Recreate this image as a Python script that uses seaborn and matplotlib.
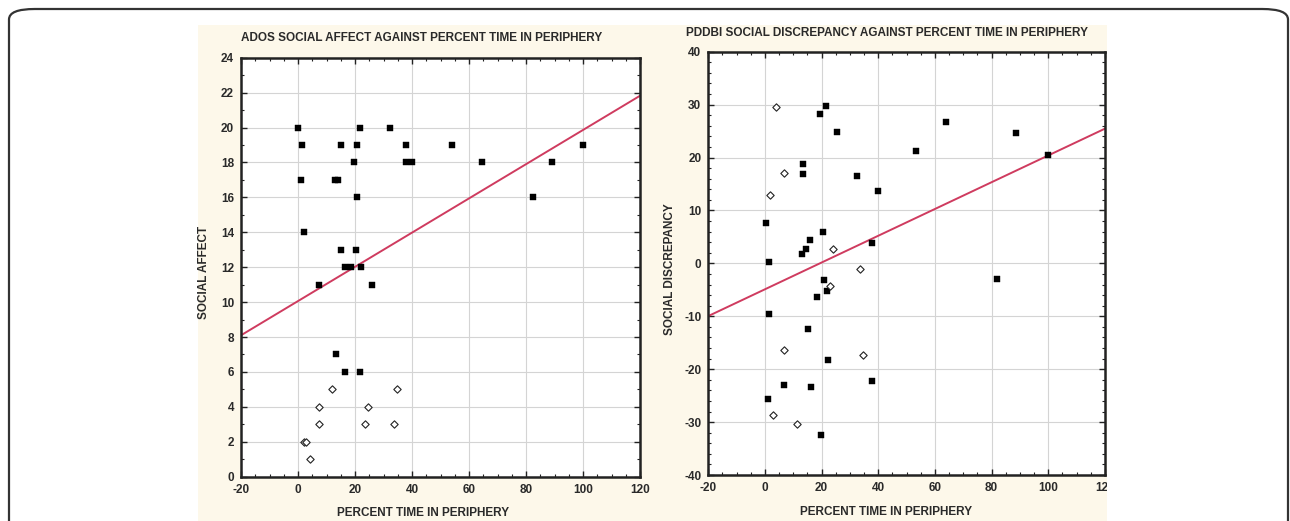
import numpy as np
import pandas as pd
import matplotlib
matplotlib.use("Agg")
import matplotlib.pyplot as plt
from matplotlib.patches import Rectangle, FancyBboxPatch
from matplotlib.transforms import Bbox, TransformedBbox
from matplotlib.ticker import MultipleLocator
import seaborn as sns

# ADOS social affect panel
ados_sq_x = [0, 1.4, 0.9, 2, 15, 13, 14, 20.8, 19.8, 21.8, 20.7, 15, 20.2, 32.2, 37.9,
             37.9, 40.1, 54.2, 64.6, 82.5, 89.2, 100, 16.5, 18.5, 22.2, 7.3, 26, 13.5, 16.6, 21.7]
ados_sq_y = [20, 19, 17, 14, 19, 17, 17, 19, 18, 20, 16, 13, 13, 20, 19,
             18, 18, 19, 18, 16, 18, 19, 12, 12, 12, 11, 11, 7, 6, 6]
ados_dm_x = [11.8, 34.9, 7.3, 24.4, 7.3, 23.4, 33.8, 2, 2.9, 4.1]
ados_dm_y = [5, 5, 4, 4, 3, 3, 3, 2, 2, 1]
ados_fit = (10.06, 0.098)  # intercept, slope

# PDDBI social discrepancy panel
pddbi_sq_x = [21.4, 19.3, 25.5, 63.9, 88.5, 53.4, 99.8, 13.5, 13.5, 32.4, 39.8, 0.5, 20.4, 16,
              14.5, 12.9, 37.6, 1.4, 20.8, 21.9, 18.2, 1.4, 15.1, 22.4, 37.6, 6.7, 16.1, 0.9, 19.8, 81.8]
pddbi_sq_y = [29.7, 28.2, 24.9, 26.8, 24.6, 21.2, 20.5, 18.8, 16.8, 16.5, 13.7, 7.6, 5.9, 4.5,
              2.8, 1.7, 3.9, 0.3, -3.1, -5.2, -6.3, -9.6, -12.4, -18.3, -22.2, -23.0, -23.4, -25.6, -32.4, -2.9]
pddbi_dm_x = [4, 6.7, 1.9, 24.1, 33.6, 22.9, 6.7, 34.5, 2.9, 11.4]
pddbi_dm_y = [29.5, 17.1, 12.9, 2.8, -1.1, -4.2, -16.4, -17.3, -28.7, -30.4]
pddbi_fit = (-4.9, 0.253)

sns.set_style("ticks")
plt.rcParams["font.family"] = ["Liberation Sans", "DejaVu Sans"]
plt.rcParams["axes.unicode_minus"] = False

W, H = 1290, 521
fig = plt.figure(figsize=(W / 100, H / 100), dpi=100)
fig.patch.set_facecolor("white")

# outer frame and cream picture background
fig.patches.append(FancyBboxPatch((9 / W, -0.2), (W - 11) / W, 1.2 - 9 / H,
                                  boxstyle="round,pad=0,rounding_size=0.02",
                                  transform=fig.transFigure, fc="white", ec="#333333",
                                  lw=1.6, zorder=-3))
fig.patches.append(Rectangle((198 / W, 0), (1107 - 198) / W, (H - 25) / H,
                             transform=fig.transFigure, fc="#fdf8ea", ec="none", zorder=-2))

red = "#cf3b5f"
tick_kw = dict(fontsize=8.5, fontweight="bold", color="#2a2a2a")


def panel(rect, sq_x, sq_y, dm_x, dm_y, fit, ylim, ymaj, ymin):
    ax = fig.add_axes(rect)
    ax.set_facecolor("white")
    sq = pd.DataFrame({"x": sq_x, "y": sq_y})
    dm = pd.DataFrame({"x": dm_x, "y": dm_y})
    ax.axline((0, fit[0]), slope=fit[1], color=red, lw=1.4, zorder=2)
    sns.scatterplot(data=sq, x="x", y="y", marker="s", s=24, color="black",
                    edgecolor="black", linewidth=0.3, ax=ax, zorder=3)
    sns.scatterplot(data=dm, x="x", y="y", marker="D", s=14, facecolor="white",
                    edgecolor="#222222", linewidth=0.8, ax=ax, zorder=3)
    ax.set_xlim(-20, 120)
    ax.set_ylim(*ylim)
    ax.xaxis.set_major_locator(MultipleLocator(20))
    ax.xaxis.set_minor_locator(MultipleLocator(5))
    ax.yaxis.set_major_locator(MultipleLocator(ymaj))
    ax.yaxis.set_minor_locator(MultipleLocator(ymin))
    ax.grid(True, which="major", color="#d4d4d4", lw=0.8)
    ax.set_axisbelow(True)
    ax.tick_params(which="both", direction="in", top=True, right=True, color="#222222")
    ax.tick_params(which="major", length=4, width=1, pad=5)
    ax.tick_params(which="minor", length=2.5, width=0.8)
    for s in ax.spines.values():
        s.set_color("#222222")
        s.set_linewidth(1.8)
    ax.set_xlabel("")
    ax.set_ylabel("")
    for lab in ax.get_xticklabels() + ax.get_yticklabels():
        lab.set(**tick_kw)
    return ax


axl = panel([241 / W, 44.3 / H, 399 / W, 419 / H], ados_sq_x, ados_sq_y, ados_dm_x, ados_dm_y,
            ados_fit, (0, 24), 2, 1)
axr = panel([708.3 / W, 46 / H, 396.7 / W, 423.3 / H], pddbi_sq_x, pddbi_sq_y, pddbi_dm_x, pddbi_dm_y,
            pddbi_fit, (-40, 40), 10, 2)

# the source picture is cropped through the last tick label on the right
clip = TransformedBbox(Bbox([[0, 0], [1107 / W, 1]]), fig.transFigure)
for lab in axr.get_xticklabels():
    lab.set_clip_on(True)
    lab.set_clip_box(clip)

lab_kw = dict(fontsize=8.5, fontweight="bold", color="#2a2a2a", ha="center", va="center")
fig.text(422 / W, 1 - 38 / H, "ADOS SOCIAL AFFECT AGAINST PERCENT TIME IN PERIPHERY", **lab_kw)
fig.text(887 / W, 1 - 33 / H, "PDDBI SOCIAL DISCREPANCY AGAINST PERCENT TIME IN PERIPHERY", **lab_kw)
fig.text(423 / W, 1 - 513 / H, "PERCENT TIME IN PERIPHERY", **lab_kw)
fig.text(886 / W, 1 - 512 / H, "PERCENT TIME IN PERIPHERY", **lab_kw)
fig.text(204 / W, 1 - 272 / H, "SOCIAL AFFECT", rotation=90, **lab_kw)
fig.text(670 / W, 1 - 269 / H, "SOCIAL DISCREPANCY", rotation=90, **lab_kw)

fig.savefig("out.png", dpi=100)
